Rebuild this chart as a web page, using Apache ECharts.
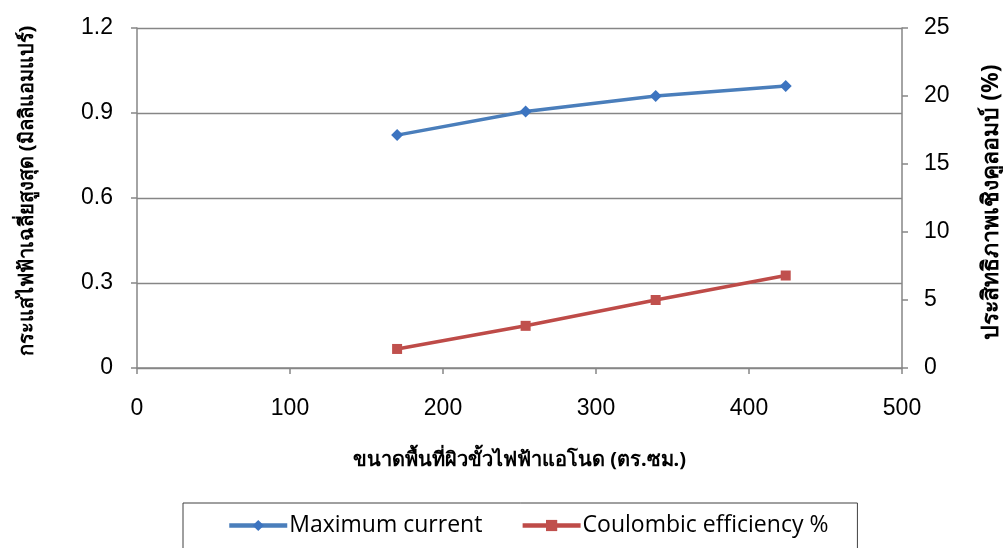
<!DOCTYPE html>
<html>
<head>
<meta charset="utf-8">
<script src="https://cdn.jsdelivr.net/npm/echarts@6/dist/echarts.min.js"></script>
<style>
  html, body { margin: 0; padding: 0; background: #fff; }
  #chart { width: 1003px; height: 548px; }
</style>
</head>
<body>
<div id="chart"></div>
<script>
// Anode surface area (sq. cm) for each test run
const anodeArea = [170, 254, 339, 424];
// Average maximum current (mA), left axis
const maxCurrent = [0.822, 0.905, 0.960, 0.995];
// Coulombic efficiency (%), right axis
const coulombicEff = [1.4, 3.1, 5.0, 6.8];

const seriesNames = ['Maximum current', 'Coulombic efficiency %'];
const xTitle = 'ขนาดพื้นที่ผิวขั้วไฟฟ้าแอโนด (ตร.ซม.)';
const yLeftTitle = 'กระแสไฟฟ้าเฉลี่ยสูงสุด (มิลลิแอมแปร์)';
const yRightTitle = 'ประสิทธิภาพเชิงคูลอมบ์ (%)';

const pairs = (xs, ys) => xs.map((x, i) => [x, ys[i]]);

const axisGray = '#868686';
const labelFont = 'Liberation Sans, Arial, sans-serif';
const thaiFont = 'Noto Sans, DejaVu Sans, serif';
const blue = '#4A7EBB', blueMark = '#3C74C0';
const red = '#BE4B48', redMark = '#C0504D';

const chart = echarts.init(document.getElementById('chart'), null, { renderer: 'canvas' });
chart.setOption({
  animation: false,
  backgroundColor: '#fff',
  grid: { left: 137, right: 101, top: 28, bottom: 180, containLabel: false, outerBoundsMode: 'none' },
  xAxis: {
    type: 'value', min: 0, max: 500, interval: 100,
    name: xTitle, nameLocation: 'middle', nameGap: 82,
    nameTextStyle: { fontFamily: thaiFont, fontWeight: 'bold', fontSize: 20, color: '#000' },
    axisLine: { show: true, onZero: false, lineStyle: { color: axisGray, width: 1.5 } },
    axisTick: { show: true, inside: false, length: 6, lineStyle: { color: axisGray, width: 1.5 } },
    axisLabel: { fontFamily: labelFont, fontSize: 23, color: '#000', margin: 29 },
    splitLine: { show: false }
  },
  yAxis: [
    {
      type: 'value', min: 0, max: 1.2, interval: 0.3, position: 'left',
      name: yLeftTitle, nameLocation: 'middle', nameRotate: 90, nameGap: 100,
      nameTextStyle: { fontFamily: thaiFont, fontWeight: 'bold', fontSize: 20, color: '#000', padding: [0, 0, 0, 14] },
      axisLine: { show: true, lineStyle: { color: axisGray, width: 1.5 } },
      axisTick: { show: true, length: 6, lineStyle: { color: axisGray, width: 1.5 } },
      axisLabel: { fontFamily: labelFont, fontSize: 23, color: '#000', margin: 24,
        formatter: v => (v === 0 ? '0' : v.toFixed(1)) },
      splitLine: { show: true, lineStyle: { color: axisGray, width: 1.3 } }
    },
    {
      type: 'value', min: 0, max: 25, interval: 5, position: 'right',
      name: yRightTitle, nameLocation: 'middle', nameRotate: 90, nameGap: 78,
      nameTextStyle: { fontFamily: thaiFont, fontWeight: 'bold', fontSize: 23, color: '#000', padding: [0, 8, 0, 0] },
      axisLine: { show: true, lineStyle: { color: axisGray, width: 1.5 } },
      axisTick: { show: true, length: 6, lineStyle: { color: axisGray, width: 1.5 } },
      axisLabel: { fontFamily: labelFont, fontSize: 23, color: '#000', margin: 22 },
      splitLine: { show: false }
    }
  ],
  legend: {
    left: 183, top: 503,
    padding: [11, 29, 20, 44],
    itemGap: 38,
    itemWidth: 58, itemHeight: 14,
    borderColor: '#404040', borderWidth: 1,
    lineStyle: { width: 4.5 },
    textStyle: { fontFamily: 'Open Sans, Liberation Sans, sans-serif', fontSize: 23, color: '#000', padding: [0, 0, 0, -3] },
    data: seriesNames
  },
  series: [
    {
      name: seriesNames[0], type: 'line', yAxisIndex: 0,
      data: pairs(anodeArea, maxCurrent),
      symbol: 'diamond', symbolSize: 12,
      lineStyle: { color: blue, width: 3.5 },
      itemStyle: { color: blueMark }
    },
    {
      name: seriesNames[1], type: 'line', yAxisIndex: 1,
      data: pairs(anodeArea, coulombicEff),
      symbol: 'rect', symbolSize: 10,
      lineStyle: { color: red, width: 3.5 },
      itemStyle: { color: redMark }
    }
  ]
});
</script>
</body>
</html>
